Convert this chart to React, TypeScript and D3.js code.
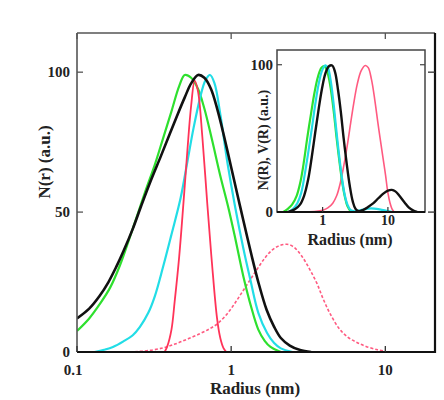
import React from "react";
import * as d3 from "d3";

type P = [number, number];

// Main plot series: [radius (nm), N(r) (a.u.)]
const mainBlack: P[] = [[0.1,12],[0.12,15.5],[0.14,20],[0.16,25],[0.18,30.5],[0.2,36],[0.23,44],[0.26,52],[0.3,61],[0.35,70],[0.4,78],[0.45,85],[0.5,91],[0.55,96],[0.61,99],[0.67,98],[0.74,94],[0.82,86],[0.9,77],[1.0,66],[1.1,56],[1.2,47],[1.35,35],[1.5,25],[1.7,15],[1.9,9],[2.1,5],[2.4,2.3],[2.8,0.7],[3.3,0]];
const mainGreen: P[] = [[0.1,7.5],[0.12,12],[0.14,17],[0.164,23],[0.19,31],[0.22,41],[0.25,50],[0.28,58],[0.32,67],[0.36,76],[0.41,86],[0.46,95],[0.5,99],[0.55,98],[0.61,94],[0.67,87],[0.75,76],[0.85,63],[0.955,52],[1.05,42],[1.2,27],[1.35,16],[1.5,8],[1.65,4],[1.8,1.8],[2.1,0]];
const mainCyan: P[] = [[0.13,0],[0.15,0.8],[0.171,1.8],[0.2,3.8],[0.23,6],[0.256,9],[0.29,14],[0.32,20],[0.36,30],[0.41,42],[0.47,55],[0.52,68],[0.57,80],[0.63,91],[0.68,97],[0.73,99],[0.78,96],[0.85,85],[0.95,67],[1.06,52],[1.2,37],[1.33,26],[1.5,14],[1.71,6.8],[1.9,3.2],[2.1,1.3],[2.5,0]];
const mainRed: P[] = [[0.37,0],[0.385,2],[0.41,8],[0.43,18],[0.46,34],[0.49,53],[0.52,72],[0.55,88],[0.58,97],[0.61,93],[0.65,77],[0.7,53],[0.75,32],[0.81,12],[0.85,5],[0.89,1.5],[0.93,0]];
const mainRedDash: P[] = [[0.22,0],[0.3,0.6],[0.38,1.8],[0.45,3.2],[0.53,4.8],[0.63,6.6],[0.72,8.2],[0.81,10],[0.92,13],[1.03,16.5],[1.15,20.5],[1.3,25],[1.47,29.5],[1.65,33.5],[1.85,36.5],[2.05,38],[2.3,38.5],[2.55,37.5],[2.85,34.5],[3.2,30],[3.6,24.5],[3.95,19],[4.4,13.5],[5.0,8.5],[5.7,5.3],[6.5,3.5],[7.5,2],[8.9,0.8],[10,0.3]];

// Inset series: [radius (nm), N(R), V(R) (a.u.)]
const insetGreen: P[] = [[0.25,0],[0.29,2],[0.34,5],[0.4,11],[0.46,21],[0.52,35],[0.58,50],[0.66,66],[0.75,81],[0.85,92],[0.96,98],[1.07,99],[1.2,94],[1.35,82],[1.5,66],[1.64,50],[1.8,35],[2.0,20],[2.2,10],[2.4,4],[2.7,0.5],[3.0,0]];
const insetCyan: P[] = [[0.3,0],[0.35,2],[0.41,6],[0.47,13],[0.53,25],[0.6,40],[0.68,56],[0.77,73],[0.87,87],[0.98,96],[1.1,99.5],[1.2,98],[1.32,90],[1.46,75],[1.6,58],[1.75,42],[1.95,25],[2.15,13],[2.4,5],[2.7,1.2],[3.1,0.5],[4,1.5],[5.5,2.5],[7.5,1.8],[10,0.6],[12,0]];
const insetBlack: P[] = [[0.3,0],[0.38,2],[0.45,5],[0.52,11],[0.6,22],[0.68,37],[0.77,54],[0.87,70],[0.98,84],[1.1,94],[1.25,99],[1.4,99.5],[1.55,95],[1.72,83],[1.9,68],[2.1,50],[2.35,32],[2.6,18],[2.9,7],[3.2,2],[3.6,0.5],[4.2,1.5],[5,3.5],[6,6],[7.2,9.5],[8.5,12.5],[10,14.5],[11.5,15],[13,14],[15,11],[18,6.5],[21,3],[25,0.8],[28,0]];
const insetRed: P[] = [[0.55,0],[0.8,0.4],[1.0,1.2],[1.2,2.8],[1.43,6],[1.64,11],[1.85,19],[2.1,31],[2.4,46],[2.7,61],[3.0,74],[3.4,87],[3.9,96],[4.5,99.5],[5.0,98],[5.6,90],[6.3,76],[7.0,61],[7.6,50],[8.4,37],[9.2,25],[10.0,13],[10.8,6],[11.6,2],[12.5,0]];

const mainXTicks = [0.1, 1, 10];
const mainXTickLabels = ["0.1", "1", "10"];
const mainYTicks = [0, 50, 100];
const insetXTicks = [1, 10];
const insetYTicks = [0, 100];

const FONT = "'Liberation Serif', 'DejaVu Serif', serif";
const GREEN = "#2ee02e";
const CYAN = "#22dde6";
const RED = "#ff3358";
const PINK = "#ff5a80";

export default function App() {
  const x = d3.scaleLog().domain([0.1, 21]).range([77, 435]);
  const y = d3.scaleLinear().domain([0, 114]).range([352, 33]);
  const xi = d3.scaleLog().domain([0.2, 37]).range([277, 425]);
  const yi = d3.scaleLinear().domain([0, 110]).range([212, 50]);

  const curve = d3.curveCatmullRom.alpha(0.5);
  const lineMain = d3.line<P>().x((d) => x(d[0])).y((d) => Math.min(y(0), y(d[1]))).curve(curve);
  const lineInset = d3.line<P>().x((d) => xi(d[0])).y((d) => Math.min(yi(0), yi(d[1]))).curve(curve);

  const [x0, x1] = x.range();
  const [y0, y1] = y.range();
  const [xi0, xi1] = xi.range();
  const [yi0, yi1] = yi.range();

  return (
    <svg width={444} height={400} style={{ position: "absolute", left: 0, top: 0, background: "#fff" }}>
      <rect x={0} y={0} width={444} height={400} fill="#fff" />
      <defs>
        <clipPath id="mainClip"><rect x={x0} y={y1} width={x1 - x0} height={y0 - y1} /></clipPath>
        <clipPath id="insetClip"><rect x={xi0} y={yi1} width={xi1 - xi0} height={yi0 - yi1} /></clipPath>
      </defs>
      <g fill="none" clipPath="url(#mainClip)">
        <path d={lineMain(mainRedDash)!} stroke={PINK} strokeWidth={1.6} strokeDasharray="3 2" />
        <path d={lineMain(mainGreen)!} stroke={GREEN} strokeWidth={2.2} />
        <path d={lineMain(mainCyan)!} stroke={CYAN} strokeWidth={2.2} />
        <path d={lineMain(mainRed)!} stroke={RED} strokeWidth={1.8} />
        <path d={lineMain(mainBlack)!} stroke="#111" strokeWidth={2.6} />
      </g>
      <line x1={x0} x2={x1} y1={y1} y2={y1} stroke="#555" strokeWidth={1.5} />
      <line x1={x0} x2={x0} y1={y1} y2={y0} stroke="#555" strokeWidth={1.6} />
      <line x1={x1} x2={x1} y1={y1} y2={y0 + 1} stroke="#111" strokeWidth={2.2} />
      <line x1={x0} x2={x1} y1={y0} y2={y0} stroke="#111" strokeWidth={2.2} />
      {mainYTicks.filter((t) => t > 0).map((t) => (
        <g key={"myt" + t}>
          <line x1={x0} x2={x0 + 6} y1={y(t)} y2={y(t)} stroke="#555" strokeWidth={1.3} />
          <line x1={x1 - 7} x2={x1} y1={y(t)} y2={y(t)} stroke="#333" strokeWidth={1.3} />
        </g>
      ))}
      {mainXTicks.map((t) => (
        <g key={"mxt" + t}>
          <line x1={x(t)} x2={x(t)} y1={y0} y2={y0 - 6} stroke="#333" strokeWidth={1.3} />
          <line x1={x(t)} x2={x(t)} y1={y1} y2={y1 + 6} stroke="#555" strokeWidth={1.3} />
        </g>
      ))}
      <g fontFamily={FONT} fontWeight="bold" fontSize={15} fill="#222">
        {mainYTicks.map((t) => (
          <text key={"myl" + t} x={x0 - 7} y={y(t)} dy="0.35em" textAnchor="end">{t}</text>
        ))}
        {mainXTicks.map((t, i) => (
          <text key={"mxl" + t} x={x(t) - (i === 0 ? 4 : 0)} y={375} textAnchor="middle">{mainXTickLabels[i]}</text>
        ))}
        <text x={255} y={394} textAnchor="middle" fontSize={17}>Radius (nm)</text>
        <text transform={`translate(50,162) rotate(-90)`} textAnchor="middle" fontSize={17}>N(r) (a.u.)</text>
      </g>

      <rect x={xi0} y={yi1} width={xi1 - xi0} height={yi0 - yi1} fill="#fff" />
      <g fill="none" clipPath="url(#insetClip)">
        <path d={lineInset(insetRed)!} stroke={PINK} strokeWidth={1.6} />
        <path d={lineInset(insetGreen)!} stroke={GREEN} strokeWidth={2.2} />
        <path d={lineInset(insetCyan)!} stroke={CYAN} strokeWidth={2.2} />
        <path d={lineInset(insetBlack)!} stroke="#111" strokeWidth={2.4} />
      </g>
      <rect x={xi0} y={yi1} width={xi1 - xi0} height={yi0 - yi1} fill="none" stroke="#444" strokeWidth={1.5} />
      <line x1={xi0} x2={xi1} y1={yi0} y2={yi0} stroke="#111" strokeWidth={2} />
      {insetYTicks.filter((t) => t > 0).map((t) => (
        <g key={"iyt" + t}>
          <line x1={xi0} x2={xi0 + 5} y1={yi(t)} y2={yi(t)} stroke="#444" strokeWidth={1.2} />
          <line x1={xi1 - 5} x2={xi1} y1={yi(t)} y2={yi(t)} stroke="#444" strokeWidth={1.2} />
        </g>
      ))}
      {insetXTicks.map((t) => (
        <line key={"ixt" + t} x1={xi(t)} x2={xi(t)} y1={yi0} y2={yi0 - 5} stroke="#333" strokeWidth={1.2} />
      ))}
      <g fontFamily={FONT} fontWeight="bold" fontSize={14} fill="#222">
        {insetYTicks.map((t) => (
          <text key={"iyl" + t} x={xi0 - 4} y={yi(t)} dy="0.35em" textAnchor="end" fontSize={15}>{t}</text>
        ))}
        {insetXTicks.map((t) => (
          <text key={"ixl" + t} x={xi(t)} y={225} textAnchor="middle">{t}</text>
        ))}
        <text x={350} y={245} textAnchor="middle" fontSize={16}>Radius (nm)</text>
        <text transform={`translate(268,140) rotate(-90)`} textAnchor="middle" fontSize={14}>N(R), V(R) (a.u.)</text>
      </g>
    </svg>
  );
}
